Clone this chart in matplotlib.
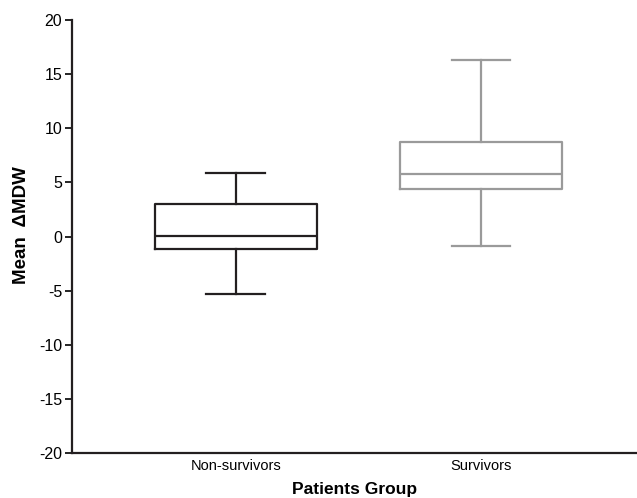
import matplotlib.pyplot as plt

plt.rcParams['font.family'] = ['Liberation Sans', 'DejaVu Sans']
plt.rcParams['axes.unicode_minus'] = False

groups = ["Non-survivors", "Survivors"]
whisker_low = [-5.3, -0.85]
q1 = [-1.2, 4.4]
median = [0.05, 5.75]
q3 = [3.0, 8.75]
whisker_high = [5.85, 16.35]
colors = ["#231f20", "#9a9a9a"]

stats = []
for i in range(len(groups)):
    stats.append({"label": groups[i], "whislo": whisker_low[i], "q1": q1[i],
                  "med": median[i], "q3": q3[i], "whishi": whisker_high[i], "fliers": []})

fig = plt.figure(figsize=(6.37, 4.98), dpi=100)
ax = fig.add_axes([0.113, 0.0904, 0.887, 0.8694])

for i in range(len(groups)):
    c = colors[i]
    ax.bxp([stats[i]], positions=[i], widths=0.66, showfliers=False,
           capwidths=0.24,
           boxprops=dict(color=c, linewidth=1.6),
           medianprops=dict(color=c, linewidth=1.6),
           whiskerprops=dict(color=c, linewidth=1.6),
           capprops=dict(color=c, linewidth=1.6))

ax.set_xlim(-0.669, 1.637)
ax.set_ylim(-20, 20)
ax.set_yticks(range(-20, 21, 5))
ax.set_xticks(range(len(groups)))
ax.set_xticklabels(groups, fontsize=10.5)
ax.tick_params(axis='y', labelsize=11.5, length=5, width=1.2, direction='out', pad=2)
ax.tick_params(axis='x', length=0, pad=4)

for s in ['top', 'right']:
    ax.spines[s].set_visible(False)
for s in ['left', 'bottom']:
    ax.spines[s].set_linewidth(1.6)
    ax.spines[s].set_color("#231f20")

ax.set_xlabel("Patients Group", fontsize=12.5, fontweight='bold', labelpad=7)
ax.set_ylabel("Mean  \u0394MDW", fontsize=13.5, fontweight='bold')
ax.yaxis.set_label_coords(-0.074, 0.527)

fig.savefig("out.png", dpi=100)
